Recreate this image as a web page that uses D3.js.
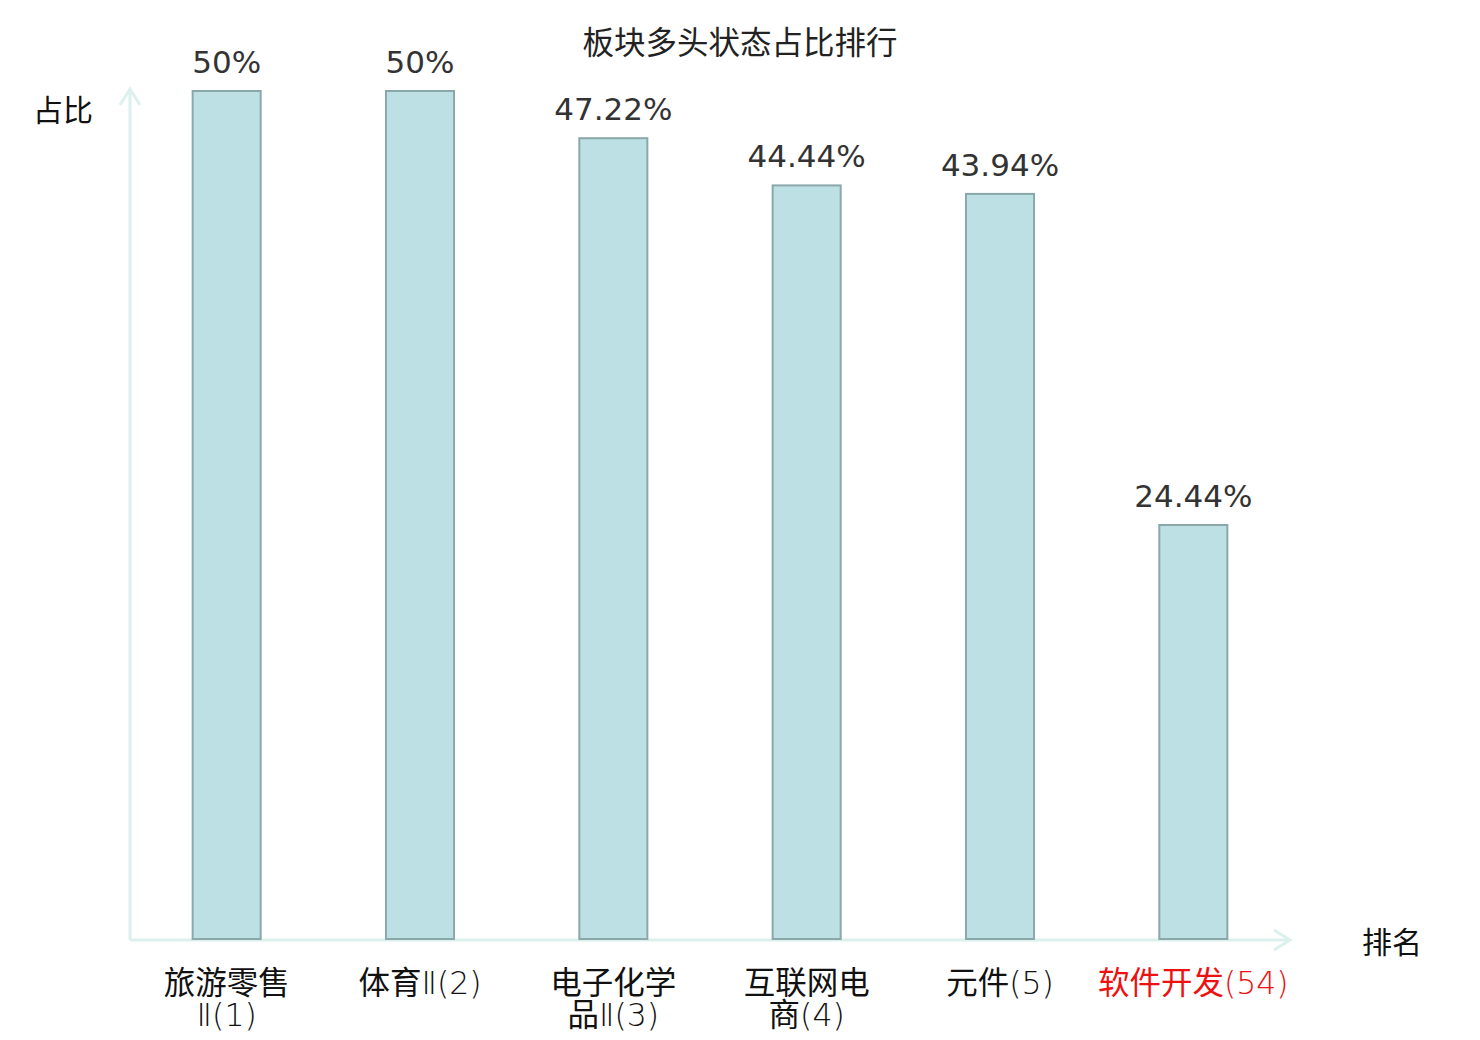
<!DOCTYPE html>
<html>
<head>
<meta charset="utf-8">
<script src="https://cdn.jsdelivr.net/npm/d3@7"></script>
<style>
  body { margin: 0; background: #fff; }
  text { font-family: "DejaVu Sans", "Noto Sans CJK SC", sans-serif; }
</style>
</head>
<body>
<div id="chart"></div>
<script>
// chart data
const categories = ["旅游零售\nⅡ(1)", "体育Ⅱ(2)", "电子化学\n品Ⅱ(3)", "互联网电\n商(4)", "元件(5)", "软件开发(54)"];
const values = [50, 50, 47.22, 44.44, 43.94, 24.44];
const valueLabels = ["50%", "50%", "47.22%", "44.44%", "43.94%", "24.44%"];
const highlighted = ["软件开发(54)"];

const width = 1480, height = 1040;
const x0 = 130, x1 = 1290, y0 = 940, yTop = 91;

const svg = d3.select("#chart").append("svg")
    .attr("width", width)
    .attr("height", height);

const x = d3.scaleBand()
    .domain(categories)
    .range([x0, x1])
    .paddingInner(0.648)
    .paddingOuter(0.324);

const y = d3.scaleLinear()
    .domain([0, 50])
    .range([y0, yTop]);

// title
svg.append("text")
    .attr("x", 740)
    .attr("y", 54)
    .attr("text-anchor", "middle")
    .attr("font-size", 31.5)
    .attr("fill", "#222")
    .text("板块多头状态占比排行");

// axes with arrows
const axisColor = "#dcf1ee";
svg.append("path")
    .attr("d", `M${x0},${y0} L${x0},89 M${x0 - 10},105 L${x0},89 L${x0 + 10},105`)
    .attr("fill", "none")
    .attr("stroke", axisColor)
    .attr("stroke-width", 3);
svg.append("path")
    .attr("d", `M${x0},${y0} L${x1},${y0} M${x1 - 16},${y0 - 10} L${x1},${y0} L${x1 - 16},${y0 + 10}`)
    .attr("fill", "none")
    .attr("stroke", axisColor)
    .attr("stroke-width", 3);

svg.append("text")
    .attr("x", 63).attr("y", 121)
    .attr("text-anchor", "middle")
    .attr("font-size", 30)
    .attr("fill", "#111")
    .text("占比");
svg.append("text")
    .attr("x", 1392).attr("y", 953)
    .attr("text-anchor", "middle")
    .attr("font-size", 30)
    .attr("fill", "#111")
    .text("排名");

// bars
const data = categories.map((c, i) => ({cat: c, value: values[i], label: valueLabels[i]}));

svg.append("g")
    .selectAll("rect")
    .data(data)
    .enter().append("rect")
    .attr("x", d => x(d.cat))
    .attr("y", d => y(d.value))
    .attr("width", x.bandwidth())
    .attr("height", d => y0 - 1 - y(d.value))
    .attr("fill", "#bce0e3")
    .attr("stroke", "#8aa8aa")
    .attr("stroke-width", 2);

svg.append("g")
    .selectAll("text")
    .data(data)
    .enter().append("text")
    .attr("x", d => x(d.cat) + x.bandwidth() / 2)
    .attr("y", d => y(d.value) - 18)
    .attr("text-anchor", "middle")
    .attr("font-size", 31)
    .attr("fill", "#333")
    .text(d => d.label);

// category labels: CJK part regular, latin part thin
const catLabels = svg.append("g")
    .selectAll("text")
    .data(data)
    .enter().append("text")
    .attr("x", d => x(d.cat) + x.bandwidth() / 2)
    .attr("y", 994)
    .attr("text-anchor", "middle")
    .attr("font-size", 31.5)
    .attr("font-family", "'Noto Sans CJK SC', sans-serif")
    .attr("fill", d => highlighted.includes(d.cat) ? "#ee1111" : "#111");

catLabels.each(function(d) {
    const lines = d.cat.split("\n");
    const t = d3.select(this);
    lines.forEach((line, i) => {
        const runs = line.match(/[\u4e00-\u9fff]+|[^\u4e00-\u9fff]+/g);
        runs.forEach((run, j) => {
            const s = t.append("tspan").text(run);
            if (j === 0) {
                s.attr("x", x(d.cat) + x.bandwidth() / 2)
                    .attr("dy", i === 0 ? 0 : 32);
            }
            if (!/[\u4e00-\u9fff]/.test(run)) s.attr("font-weight", 200);
        });
    });
});
</script>
</body>
</html>
